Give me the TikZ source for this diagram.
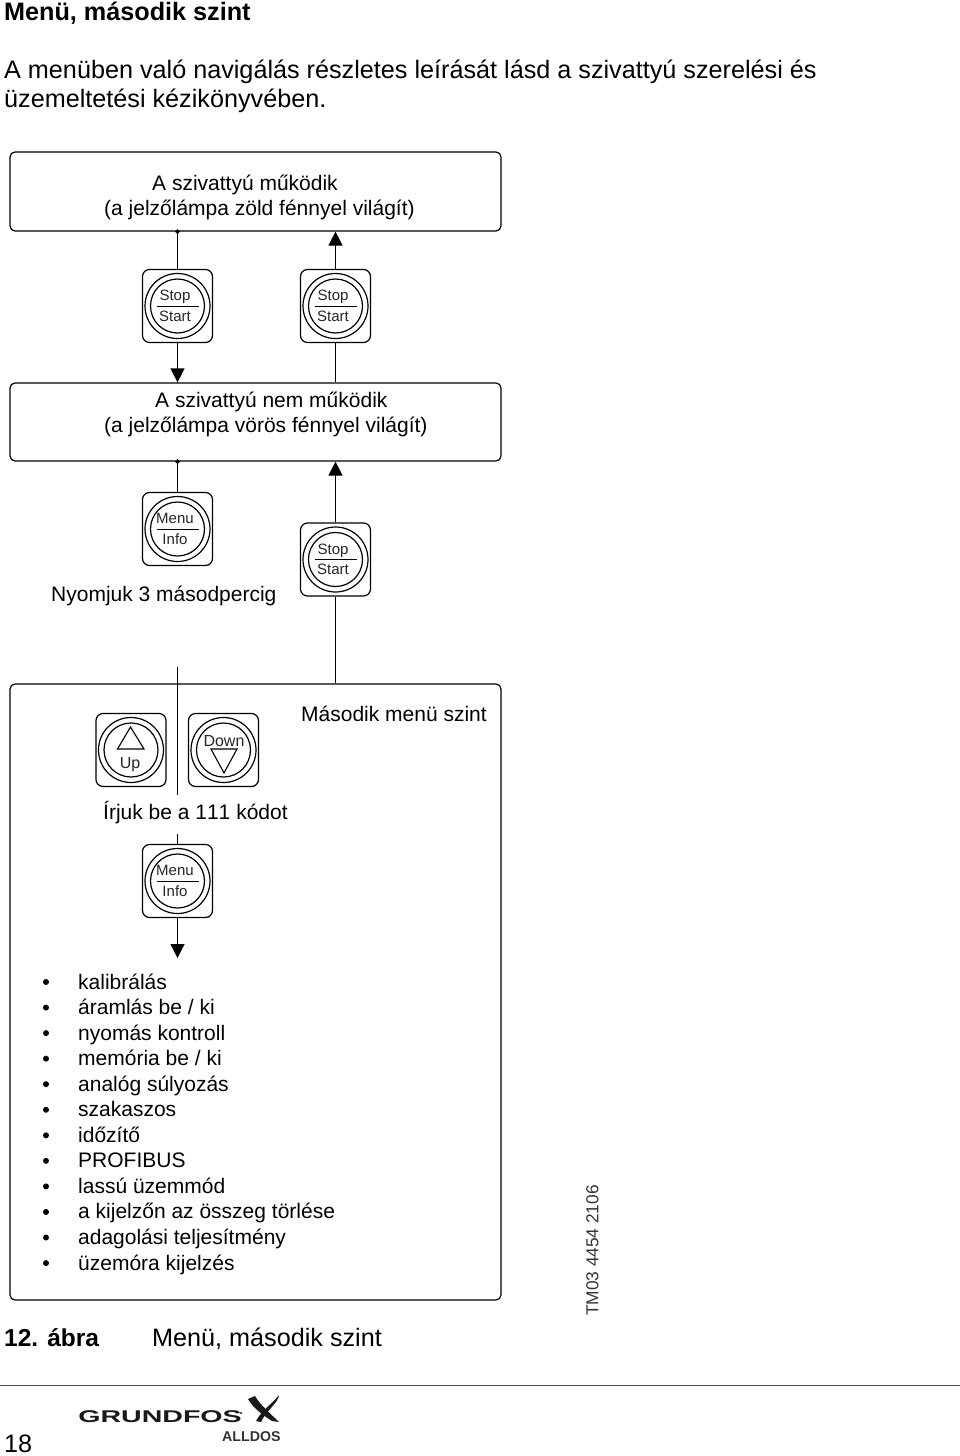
\documentclass[tikz,border=0pt]{standalone}
\usepackage{fontspec}
\setmainfont{Liberation Sans}
\usetikzlibrary{arrows.meta}

\tikzset{
  panel/.style={draw, line width=1.2pt, rounded corners=5pt},
  keybox/.style={draw, line width=1.2pt, rounded corners=7pt, minimum width=70pt, minimum height=73pt, inner sep=0pt},
  keytext/.style={font=\fontsize{15}{15}\selectfont, text=black!85, inner sep=0pt, anchor=base},
  label/.style={font=\fontsize{21}{25}\selectfont, inner sep=0pt, anchor=base west},
  body/.style={font=\fontsize{25.2}{25.2}\selectfont, inner sep=0pt, anchor=base west},
  wire/.style={line width=1.2pt},
  flow/.style={wire, -{Triangle[width=14pt,length=14pt]}},
  tap/.style={wire, {Circle[length=4.5pt]}-, shorten <=-2.2pt},
}

% key with two rings, the words are added afterwards
\newcommand{\keyshape}[2]{
  \node[keybox] (#1) at (#2) {};
  \draw[line width=1.2pt] (#1) circle (32.5pt);
  \draw[line width=1.2pt] (#1) circle (27pt);
}
\newcommand{\twokey}[4]{
  \keyshape{#1}{#2}
  \draw[line width=1pt] ([xshift=-21pt]#1.center) -- ([xshift=21pt]#1.center);
  \node[keytext] (#1top) at ([xshift=-2.5pt,yshift=5.5pt]#1.center) {#3};
  \node[keytext] (#1bot) at ([xshift=-2.5pt,yshift=-15pt]#1.center) {#4};
}

\begin{document}
\begin{tikzpicture}[x=1pt, y=-1pt]
  \useasboundingbox (0,0) rectangle (960,1456);

  \node[body, font=\fontsize{25.2}{25.2}\selectfont\bfseries] (title) at (4,20) {Menü, második szint};
  \node[body] (introa) at (4,78) {A menüben való navigálás részletes leírását lásd a szivattyú szerelési és};
  \node[body] (introb) at (4,107) {üzemeltetési kézikönyvében.};

  \node[panel, minimum width=491pt, minimum height=79pt] (running) at (255.5,191.5) {};
  \node[label] (runa) at (152,190) {A szivattyú működik};
  \node[label] (runb) at (104,215) {(a jelzőlámpa zöld fénnyel világít)};
  \node[panel, minimum width=491pt, minimum height=78pt] (stopped) at (255.5,422) {};
  \node[label] (stopa1) at (155,407) {A szivattyú nem működik};
  \node[label] (stopb1) at (104,432) {(a jelzőlámpa vörös fénnyel világít)};
  \node[panel, minimum width=491pt, minimum height=616pt] (second) at (255.5,992) {};

  \twokey{stopa}{177.5,306}{Stop}{Start}
  \twokey{startb}{335.5,306}{Stop}{Start}
  \twokey{menua}{177.5,529}{Menu}{Info}
  \twokey{startc}{335.5,559.5}{Stop}{Start}
  \twokey{menub}{177.5,881}{Menu}{Info}

  \keyshape{upkey}{131,750}
  \draw[line width=1.1pt] (130.5,727) -- (117.5,749) -- (144,749) -- cycle;
  \node[keytext, font=\fontsize{16}{16}\selectfont] (upword) at (130,768) {Up};
  \keyshape{downkey}{223.5,750}
  \node[keytext, font=\fontsize{16}{16}\selectfont] (downword) at (224,746) {Down};
  \draw[line width=1.1pt] (224,773) -- (211,749) -- (237,749) -- cycle;

  \node[label] (hold) at (51,601) {Nyomjuk 3 másodpercig};
  \node[label] (level) at (301,721) {Második menü szint};
  \node[label] (code) at (103,819) {\addfontfeatures{Kerning=Off}Írjuk be a 111 kódot};

  \coordinate (entry) at (177.5,667);
  \coordinate (gapa) at (177.5,795);
  \coordinate (gapb) at (177.5,834);
  \coordinate (listtop) at (177.5,958);

  \draw[tap] (running.south -| stopa) -- (stopa.north);
  \draw[flow] (stopa.south) -- (stopa |- stopped.north);
  \draw[wire] (startb.south) -- (startb |- stopped.north);
  \draw[flow] (startb.north) -- (startb |- running.south);
  \draw[tap] (stopped.south -| menua) -- (menua.north);
  \draw[flow] (startc.north) -- (startc |- stopped.south);
  \draw[wire] (startc.south) -- (startc |- second.north);
  \draw[wire] (entry) -- (gapa);
  \draw[wire] (gapb) -- (menub.north);
  \draw[flow] (menub.south) -- (listtop);

  % list of the second level
  \foreach \txt [count=\i from 0] in {kalibrálás, áramlás be / ki, nyomás kontroll, memória be / ki,
      analóg súlyozás, szakaszos, időzítő, PROFIBUS, lassú üzemmód, a kijelzőn az összeg törlése,
      adagolási teljesítmény, üzemóra kijelzés} {
    \fill (46,{982+25.55*\i}) circle (3pt);
    \node[label] (item\i) at (78,{989+25.55*\i}) {\txt};
  }

  \node[rotate=90, inner sep=0pt, font=\fontsize{17.3}{17.3}\selectfont, text=black!80] (tmcode) at (592.5,1250.5) {TM03 4454 2106};

  \node[body, font=\fontsize{24.5}{24.5}\selectfont\bfseries] (capnum) at (4,1346) {12. ábra};
  \node[body] (captext) at (152,1346) {Menü, második szint};

  \draw[line width=1pt, black!70] (0,1385) -- (960,1385);

  \node[body] (page) at (4,1452) {18};
  \node[inner sep=0pt, anchor=west, xscale=1.68, font=\fontsize{17}{17}\selectfont\bfseries, text=black!90] (brand) at (78,1416.5) {GRUNDFOS};
  \node[inner sep=0pt, anchor=base west, font=\fontsize{14.2}{14.2}\selectfont\bfseries, text=black!80] (maker) at (222,1441) {ALLDOS};
  \fill[black!90] (241,1413) circle (1.2pt);
  \fill[black!90] (248,1399) -- (255,1396) .. controls (261,1406) and (271,1414) .. (279,1422)
    -- (272,1421) .. controls (264,1416) and (253,1408) .. cycle;
  \fill[black!90] (279,1395) .. controls (279,1402) and (265,1412) .. (261,1422)
    -- (256,1421) .. controls (261,1411) and (273,1403) .. cycle;
\end{tikzpicture}
\end{document}
